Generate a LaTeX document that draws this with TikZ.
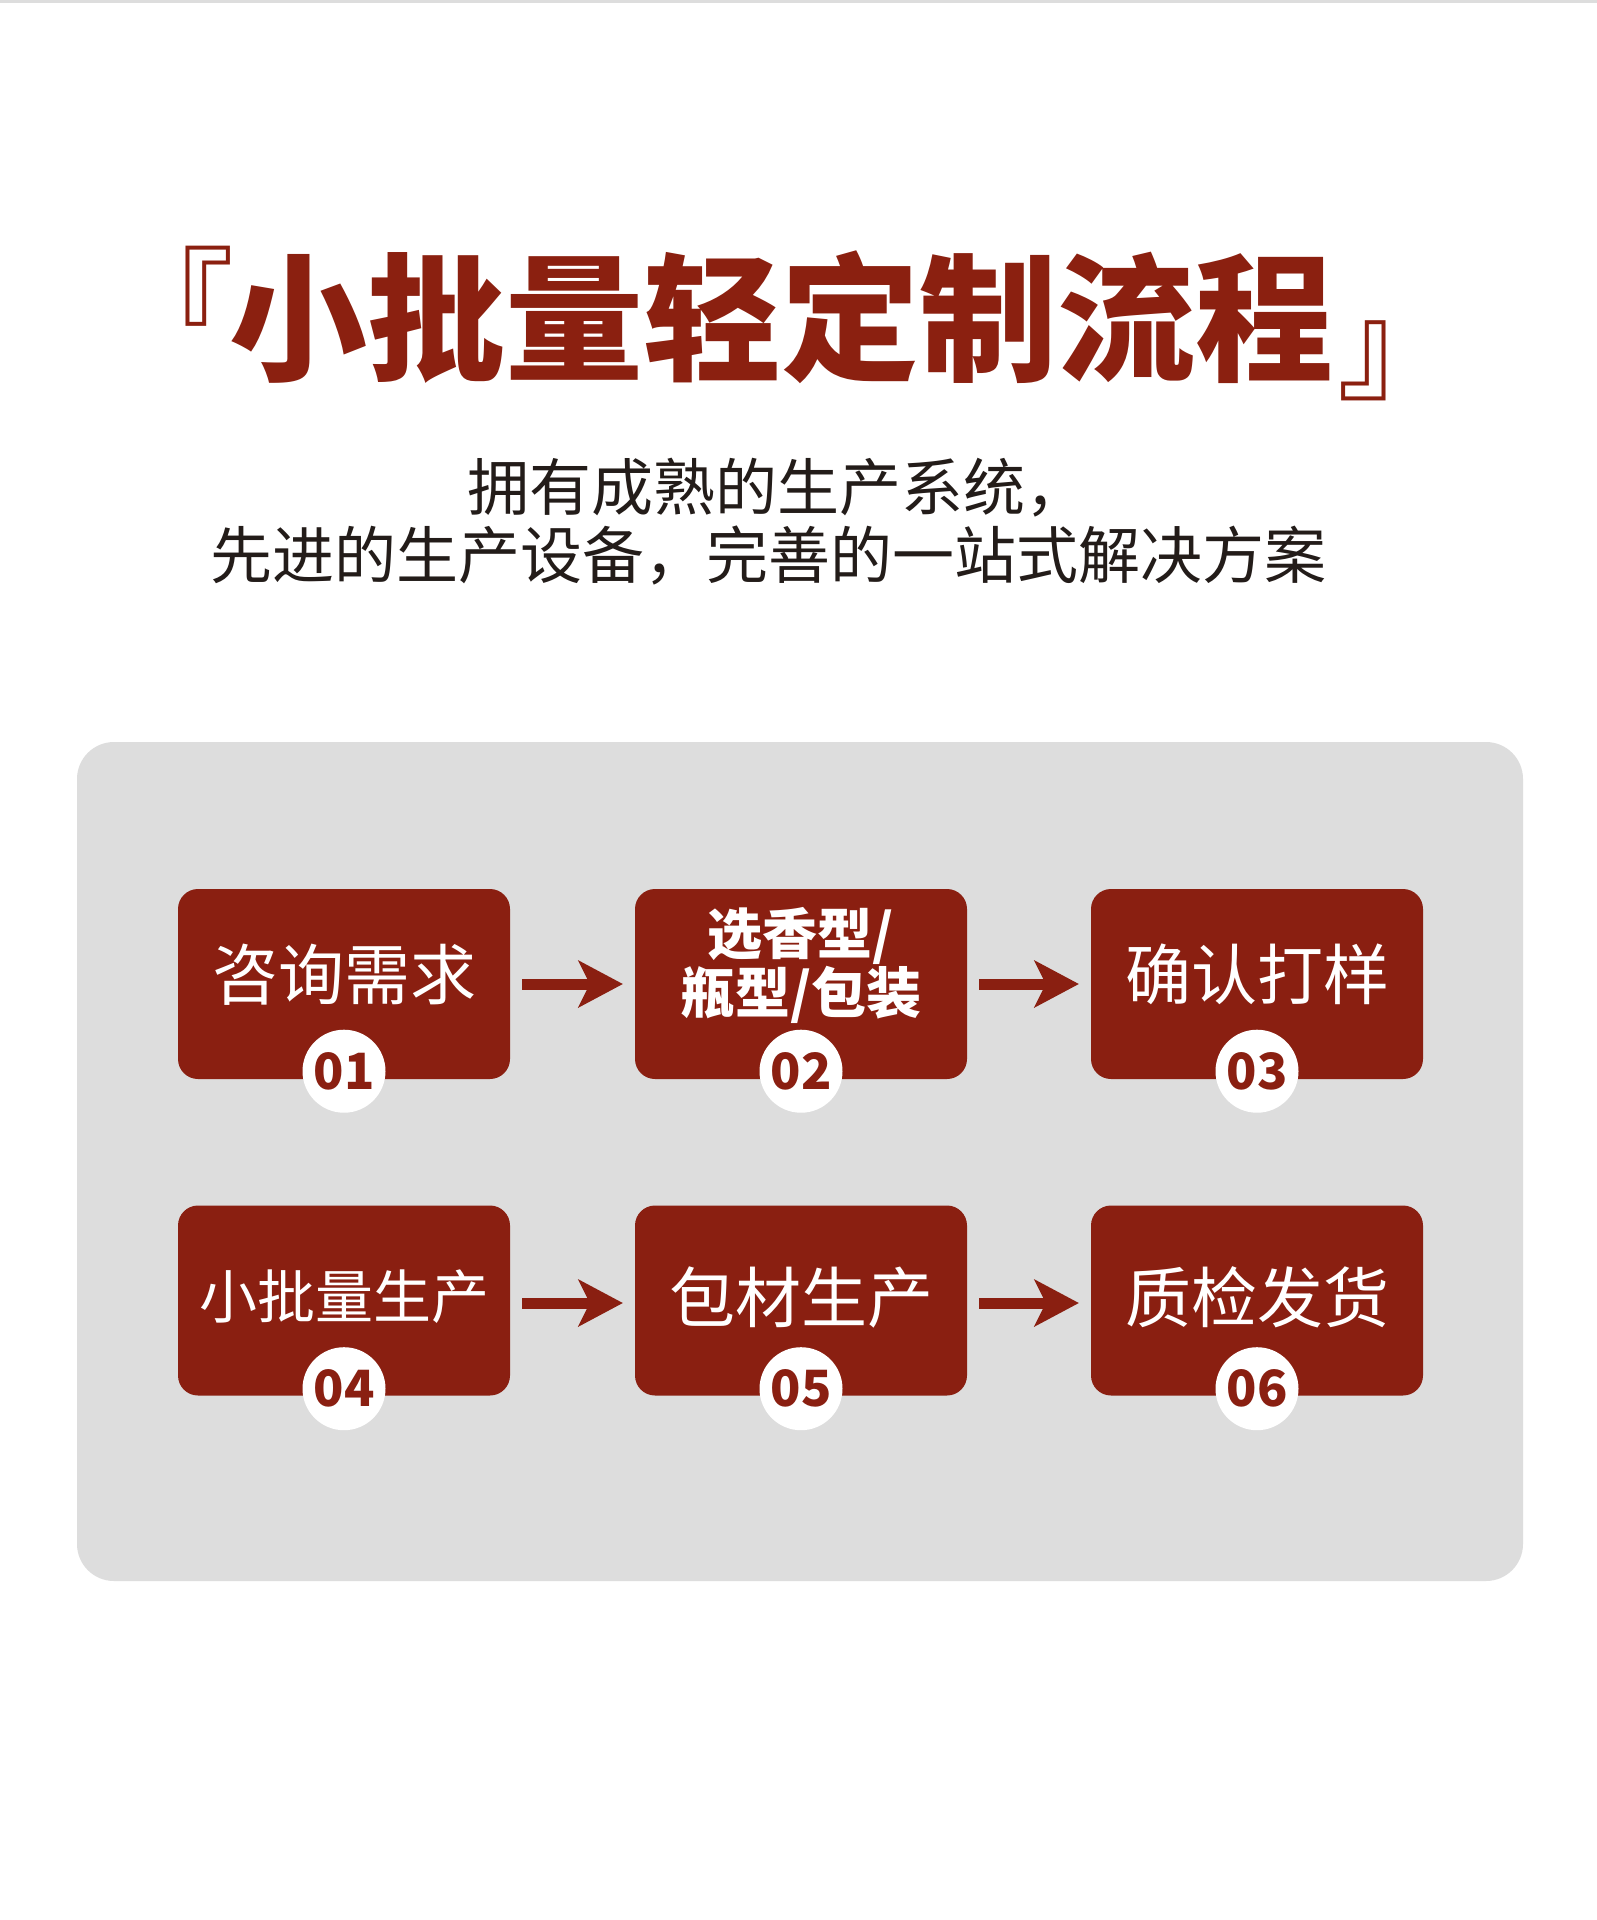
\documentclass[tikz,border=0pt]{standalone}
\usepackage{fontspec}
\newfontfamily\cjk{Noto Sans CJK SC}
\usetikzlibrary{arrows.meta}
\definecolor{brick}{RGB}{138,31,17}
\definecolor{titlered}{RGB}{139,32,16}
\definecolor{panelgray}{RGB}{221,221,221}
\definecolor{subtxt}{RGB}{35,28,25}
\tikzset{
  stepbox/.style={fill=brick, rounded corners=20pt, minimum width=332pt, minimum height=190pt, inner sep=0pt},
  boxtxt/.style={text=white, inner sep=0pt, font=\cjk\fontsize{66}{66}\selectfont},
  boxbold/.style={text=white, inner sep=0pt, align=center, font=\cjk\bfseries\fontsize{55}{59}\selectfont},
  numc/.style={circle, fill=white, minimum size=83pt, inner sep=0pt, text=brick, font=\cjk\bfseries\fontsize{50}{50}\selectfont},
  arr/.style={draw=brick, line width=11pt, shorten <=12pt, shorten >=12pt,
    -{Stealth[length=45pt,width=48pt,inset=12pt,line width=0pt]}},
  titletxt/.style={text=titlered, inner sep=0pt, font=\cjk\bfseries\fontsize{138}{138}\selectfont},
  brk/.style={text=titlered, inner sep=0pt, font=\cjk\fontsize{121}{121}\selectfont},
  subline/.style={text=subtxt, inner sep=0pt, font=\cjk\fontsize{62}{62}\selectfont},
}
\begin{document}
\begin{tikzpicture}[x=1pt,y=-1pt]
\useasboundingbox (0,0) rectangle (1597,1920);
\fill[white] (0,0) rectangle (1597,1920);
\fill[panelgray] (0,0) rectangle (1597,3);
% title
\node[titletxt] (title) at (781,317) {小批量轻定制流程};
\node[brk] (lb) at (174,297) {『};
\node[brk] (rb) at (1398,361) {』};
% subtitle
\node[subline] (s1) at (777,488) {拥有成熟的生产系统，};
\node[subline] (s2) at (768,555) {先进的生产设备，完善的一站式解决方案};
% panel
\node[fill=panelgray, rounded corners=37pt, minimum width=1446pt, minimum height=839pt, inner sep=0pt] (panel) at (800,1161.5) {};
% boxes
\node[stepbox] (b1) at (344,984) {};
\node[stepbox] (b2) at (801,984) {};
\node[stepbox] (b3) at (1257,984) {};
\node[stepbox] (b4) at (344,1300.5) {};
\node[stepbox] (b5) at (801,1300.5) {};
\node[stepbox] (b6) at (1257,1300.5) {};
% texts
\node[boxtxt] (t1) at ([yshift=9pt]b1.center) {咨询需求};
\node[boxbold] (t2) at ([yshift=19pt]b2.center) {选香型/\\瓶型/包装};
\node[boxtxt] (t3) at ([yshift=10pt]b3.center) {确认打样};
\node[boxtxt, font=\cjk\fontsize{58}{58}\selectfont] (t4) at ([yshift=4pt]b4.center) {小批量生产};
\node[boxtxt] (t5) at ([yshift=3pt]b5.center) {包材生产};
\node[boxtxt] (t6) at ([yshift=3pt]b6.center) {质检发货};
% numbers
\node[numc] (n1) at ([yshift=8pt]b1.south) {01};
\node[numc] (n2) at ([yshift=8pt]b2.south) {02};
\node[numc] (n3) at ([yshift=8pt]b3.south) {03};
\node[numc] (n4) at ([yshift=7pt]b4.south) {04};
\node[numc] (n5) at ([yshift=7pt]b5.south) {05};
\node[numc] (n6) at ([yshift=7pt]b6.south) {06};
% arrows
\draw[arr] (b1.east) -- (b2.west);
\draw[arr] (b2.east) -- (b3.west);
\draw[arr] ([yshift=-2.5pt]b4.east) -- ([yshift=-2.5pt]b5.west);
\draw[arr] ([yshift=-2.5pt]b5.east) -- ([yshift=-2.5pt]b6.west);
\end{tikzpicture}
\end{document}
